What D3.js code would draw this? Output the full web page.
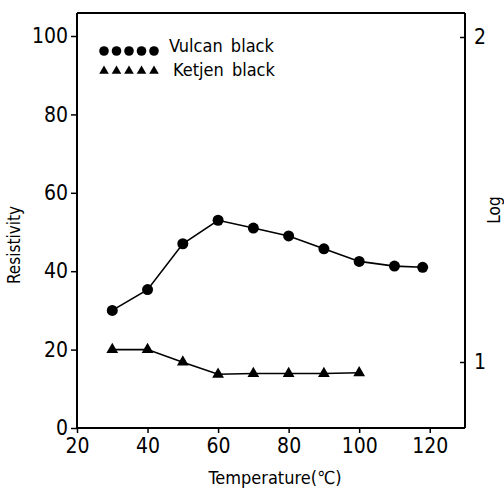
<!DOCTYPE html>
<html><head><meta charset="utf-8">
<script src="https://cdn.jsdelivr.net/npm/d3@7"></script>
<style>body{margin:0;background:#fff}svg{display:block}
text{font-family:"DejaVu Sans";font-stretch:condensed;fill:#000}</style>
</head><body><svg id="c" width="504" height="493"></svg>
<script>
const vulcanT = [30,40,50,60,70,80,90,100,110,118];
const vulcanR = [30,35.3,47,53,51,49,45.7,42.5,41.3,41];
const ketjenT = [30,40,50,60,70,80,90,100];
const ketjenR = [20,20,16.8,13.7,13.9,13.9,13.9,14.1];
const xTicks = [20,40,60,80,100,120];
const yTicks = [0,20,40,60,80,100];
const logTicks = [1,2];
const legendLabels = ["Vulcan black","Ketjen black"];

const svg = d3.select("#c");
const L=77,R=465,T=13,B=428;
const x = d3.scaleLinear().domain([20,130]).range([L,R]);
const y = d3.scaleLinear().domain([0,100]).range([B,36]);
const yLog = d3.scaleLinear().domain([1,2]).range([362,37]);

svg.append("line").attr("x1",L).attr("x2",R).attr("y1",T).attr("y2",T).attr("stroke","#000").attr("stroke-width",2);

const gx = svg.append("g").attr("transform",`translate(0,${B})`)
  .call(d3.axisBottom(x).tickValues(xTicks).tickSize(5).tickPadding(5).tickFormat(d3.format("d")));
const gy = svg.append("g").attr("transform",`translate(${L},0)`)
  .call(d3.axisLeft(y).tickValues(yTicks).tickSize(6).tickPadding(3).tickFormat(d3.format("d")));
const gr = svg.append("g").attr("transform",`translate(${R},0)`)
  .call(d3.axisLeft(yLog).tickValues(logTicks).tickSize(5).tickFormat(d3.format("d")));
gr.selectAll(".tick text").attr("x",9).attr("text-anchor","start");
[gx,gy,gr].forEach(g=>{
  g.select(".domain").attr("stroke-width",2);
  g.selectAll(".tick line").attr("stroke-width",1.5);
  g.selectAll("text").style("font-size","21px").attr("font-family",null);
});
gy.select(".domain").attr("d",`M0,${B}V${T}`);
gr.select(".domain").attr("d",`M0,${B}V${T}`);
gx.select(".domain").attr("d",`M${L},0H${R}`);

const line = d3.line();
svg.append("path").attr("d",line(vulcanT.map((t,i)=>[x(t),y(vulcanR[i])])))
  .attr("fill","none").attr("stroke","#000").attr("stroke-width",1.6);
svg.append("path").attr("d",line(ketjenT.map((t,i)=>[x(t),y(ketjenR[i])])))
  .attr("fill","none").attr("stroke","#000").attr("stroke-width",1.6);

svg.selectAll(".vc").data(vulcanT).join("circle")
  .attr("cx",d=>x(d)).attr("cy",(d,i)=>y(vulcanR[i])).attr("r",5.5).attr("fill","#000");
const tri = d3.symbol().type(d3.symbolTriangle).size(60);
svg.selectAll(".kt").data(ketjenT).join("path")
  .attr("d",tri).attr("transform",(d,i)=>`translate(${x(d)},${y(ketjenR[i])})`).attr("fill","#000");

const lg = svg.append("g");
d3.range(5).forEach(k=>{
  lg.append("circle").attr("cx",104+k*12.5).attr("cy",51).attr("r",4.8).attr("fill","#000");
  lg.append("path").attr("d",d3.symbol().type(d3.symbolTriangle).size(40)).attr("transform",`translate(${104+k*12.5},71)`).attr("fill","#000");
});
lg.append("text").attr("x",169).attr("y",52).text(legendLabels[0]).style("font-size","18px").style("word-spacing","3px");
lg.append("text").attr("x",173).attr("y",76).text(legendLabels[1]).style("font-size","18px").style("word-spacing","3px");

svg.append("text").attr("transform","translate(20,245) rotate(-90)").attr("text-anchor","middle").style("font-size","17px").text("Resistivity");
svg.append("text").attr("transform","translate(500,210) rotate(-90)").attr("text-anchor","middle").style("font-size","17px").text("Log");
svg.append("text").attr("x",275).attr("y",484).attr("text-anchor","middle").style("font-size","18px").text("Temperature(℃)");
</script></body></html>
